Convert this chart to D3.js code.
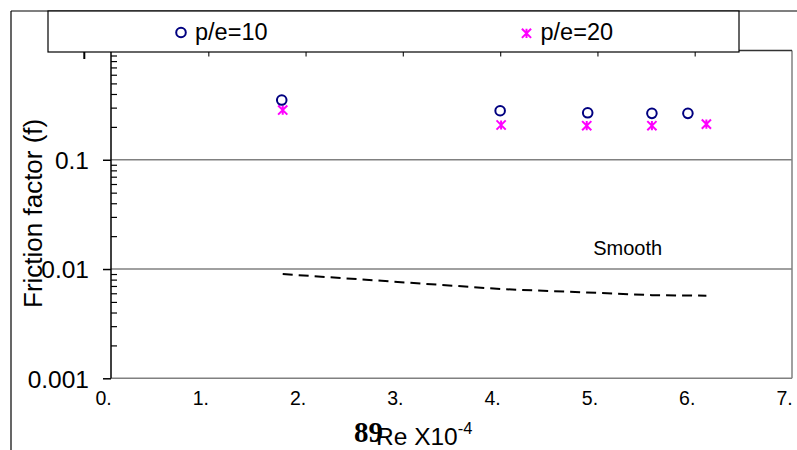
<!DOCTYPE html>
<html>
<head>
<meta charset="utf-8">
<script src="https://cdn.jsdelivr.net/npm/d3@7/dist/d3.min.js"></script>
<style>
  html, body { margin: 0; padding: 0; background: #fff; }
  svg { display: block; }
</style>
</head>
<body>
<svg id="chart" width="797" height="450"></svg>
<script>
// ---- data ----
const xTicks = [0, 1, 2, 3, 4, 5, 6, 7];
const xTickLabels = ["0.", "1.", "2.", "3.", "4.", "5.", "6.", "7."];
const yTicks = [0.001, 0.01, 0.1];
const yTickLabels = ["0.001", "0.01", "0.1"];
const yGrid = [0.01, 0.1];
const seriesNames = ["p/e=10", "p/e=20"];
const reP10 = [1.755, 4.0, 4.9, 5.56, 5.93];
const fP10 = [0.352, 0.281, 0.269, 0.266, 0.266];
const reP20 = [1.765, 4.01, 4.89, 5.56, 6.12];
const fP20 = [0.285, 0.208, 0.205, 0.205, 0.212];
const reSmooth = [1.765, 4.01, 4.89, 5.56, 6.12];
const fSmooth = [0.0090, 0.00656, 0.0061, 0.00577, 0.0057];
const smoothLabel = "Smooth";

// ---- layout ----
const SANS = "'Liberation Sans', Arial, sans-serif";
const SERIF = "'Liberation Serif', 'Times New Roman', serif";
const svg = d3.select("#chart").style("font-family", SANS);
const plot = { left: 111, right: 792, top: 50.5, bottom: 378.3 };
const x = d3.scaleLinear().domain([0, 7]).range([plot.left, plot.right]);
const y = d3.scaleLog().domain([0.001, 1]).range([plot.bottom, plot.top]);

const navy = "#000080", magenta = "#FF00FF", grey = "#808080";

// outer frame
svg.append("line").attr("x1", 11).attr("x2", 11).attr("y1", 11).attr("y2", 450).attr("stroke", "#000").attr("stroke-width", 1.2);
svg.append("line").attr("x1", 11).attr("x2", 797).attr("y1", 11).attr("y2", 11).attr("stroke", "#000").attr("stroke-width", 1.2);

// gridlines
svg.append("g").selectAll("line").data(yGrid).join("line")
  .attr("x1", plot.left).attr("x2", plot.right)
  .attr("y1", d => y(d)).attr("y2", d => y(d))
  .attr("stroke", grey).attr("stroke-width", 1.5);

// plot border (right + bottom grey, top dark)
svg.append("line").attr("x1", plot.right).attr("x2", plot.right).attr("y1", plot.top).attr("y2", plot.bottom).attr("stroke", grey).attr("stroke-width", 1.5);
svg.append("line").attr("x1", plot.left).attr("x2", plot.right).attr("y1", plot.bottom).attr("y2", plot.bottom).attr("stroke", grey).attr("stroke-width", 1.5);
svg.append("line").attr("x1", plot.left).attr("x2", plot.right).attr("y1", plot.top).attr("y2", plot.top).attr("stroke", "#333").attr("stroke-width", 1.3);

// top ticks (pointing inside)
const xTop = d3.axisBottom(x).tickValues(xTicks.slice(1, -1)).tickSize(6).tickFormat("");
const gTop = svg.append("g").attr("transform", `translate(0,${plot.top})`).call(xTop);
gTop.select(".domain").remove();
gTop.selectAll(".tick line").attr("stroke", "#333").attr("stroke-width", 1.3);

// x labels
const xAxis = d3.axisBottom(x).tickValues(xTicks).tickSize(0).tickFormat((d, i) => xTickLabels[i]);
const gX = svg.append("g").attr("transform", `translate(0,${plot.bottom})`).call(xAxis);
gX.select(".domain").remove();
gX.selectAll(".tick text")
  .style("font-family", SANS).style("font-size", "19.5px")
  .attr("fill", "#000").attr("dy", 0).attr("y", 27).attr("dx", -8);

// y axis
const yAxis = d3.axisLeft(y).tickValues(yTicks).tickSize(8).tickPadding(14).tickFormat((d, i) => yTickLabels[i]);
const gY = svg.append("g").attr("transform", `translate(${plot.left},0)`).call(yAxis);
gY.select(".domain").attr("stroke", "#000").attr("stroke-width", 1.5).attr("d", `M0,${plot.top + 1.5}V${plot.bottom}`);
gY.selectAll(".tick line").attr("stroke", "#000").attr("stroke-width", 1.5);
gY.selectAll(".tick text")
  .style("font-family", SANS).style("font-size", "24.5px")
  .attr("fill", "#000").attr("dy", "0.36em");

// minor y ticks (inside)
const minor = [];
[0.001, 0.01, 0.1].forEach(dec => { for (let k = 2; k <= 9; k++) minor.push(dec * k); });
const yMinor = d3.axisRight(y).tickValues(minor).tickSize(6).tickFormat("");
const gMinor = svg.append("g").attr("transform", `translate(${plot.left},0)`).call(yMinor);
gMinor.select(".domain").remove();
gMinor.selectAll(".tick line").attr("stroke", "#000").attr("stroke-width", 1.2);

// smooth dashed line
const line = d3.line().x(d => x(d[0])).y(d => y(d[1]));
svg.append("path").datum(reSmooth.map((r, i) => [r, fSmooth[i]]))
  .attr("d", line).attr("fill", "none").attr("stroke", "#000")
  .attr("stroke-width", 2).attr("stroke-dasharray", "10,6");

svg.append("text").attr("x", x(4.957)).attr("y", y(0.01343))
  .style("font-size", "20px").attr("text-anchor", "start").text(smoothLabel);

// markers
function drawStar(g, cx, cy) {
  const s = 4.6;
  g.append("path")
    .attr("d", `M${cx - s},${cy - s}L${cx + s},${cy + s}M${cx - s},${cy + s}L${cx + s},${cy - s}M${cx},${cy - s}L${cx},${cy + s}`)
    .attr("stroke", magenta).attr("stroke-width", 2).attr("fill", "none");
}
const gP20 = svg.append("g");
reP20.forEach((r, i) => drawStar(gP20, x(r), y(fP20[i])));
svg.append("g").selectAll("circle").data(reP10.map((r, i) => [r, fP10[i]])).join("circle")
  .attr("cx", d => x(d[0])).attr("cy", d => y(d[1])).attr("r", 4.8)
  .attr("fill", "none").attr("stroke", navy).attr("stroke-width", 2);

// legend
svg.append("rect").attr("x", 48).attr("y", 11).attr("width", 691).attr("height", 41)
  .attr("fill", "#fff").attr("stroke", "#000").attr("stroke-width", 1.2);
svg.append("circle").attr("cx", 181).attr("cy", 32.5).attr("r", 4.8)
  .attr("fill", "none").attr("stroke", navy).attr("stroke-width", 2);
svg.append("text").attr("x", 195).attr("y", 40).style("font-size", "23.5px").text(seriesNames[0]);
drawStar(svg, 526.5, 33.3);
svg.append("text").attr("x", 540.5).attr("y", 40).style("font-size", "23.5px").text(seriesNames[1]);

// stray mark
svg.append("line").attr("x1", 84.3).attr("x2", 84.3).attr("y1", 52).attr("y2", 59).attr("stroke", "#000").attr("stroke-width", 2);

// y title
svg.append("text").attr("transform", "translate(42,308) rotate(-90)")
  .style("font-size", "26px").attr("text-anchor", "start").text("Friction factor (f)");

// x title
const xt = svg.append("text").attr("x", 376).attr("y", 445).style("font-size", "24.5px");
xt.append("tspan").text("Re X10");
xt.append("tspan").style("font-size", "16.5px").attr("dy", -11).text("-4");
svg.append("text").attr("x", 354).attr("y", 442)
  .style("font-family", SERIF).style("font-size", "29px").style("font-weight", "bold").text("89");
</script>
</body>
</html>
